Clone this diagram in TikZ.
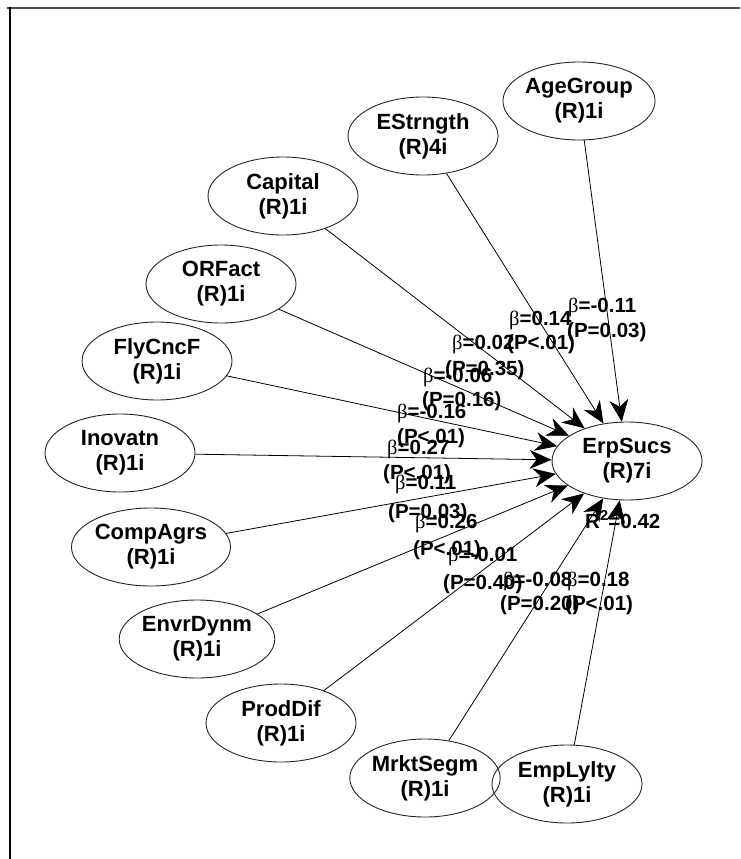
\documentclass[tikz,border=0pt]{standalone}
\usepackage{fontspec}
\setmainfont{Liberation Sans}
\newfontfamily\betafont{Liberation Serif}
\usetikzlibrary{arrows.meta,shapes.geometric}
\newcommand\betsym{{\betafont\mdseries β}}
\begin{document}
\begin{tikzpicture}[x=1pt,y=-1pt,
  construct/.style={ellipse, draw=black!85, line width=0.9pt,
    minimum width=150pt, minimum height=78pt, inner sep=0pt, align=center,
    font=\fontsize{22}{25}\selectfont\bfseries},
  link/.style={draw, line width=0.8pt,
    -{Stealth[length=22pt,width=19pt,inset=7pt]}},
  coef/.style={anchor=base west, inner sep=0pt,
    font=\fontsize{20.5}{24}\selectfont\bfseries}
]
% page and frame
\fill[white] (0,0) rectangle (740,859);
\useasboundingbox (0,0) rectangle (740,859);
\draw[line width=2pt, black!70] (7,8.5) -- (740,8.5);
\draw[line width=2pt, black] (10,7.5) -- (10,859);

% constructs
\node[construct] (AgeGroup) at (579,101) {AgeGroup\\(R)1i};
\node[construct] (EStrngth) at (423,136) {EStrngth\\(R)4i};
\node[construct] (Capital)  at (283,196) {Capital\\(R)1i};
\node[construct] (ORFact)   at (221,284) {ORFact\\(R)1i};
\node[construct] (FlyCncF)  at (157,361) {FlyCncF\\(R)1i};
\node[construct] (Inovatn)  at (120,453) {Inovatn\\(R)1i};
\node[construct] (CompAgrs) at (151,547) {CompAgrs\\(R)1i};
\node[construct] (EnvrDynm) at (197,639) {EnvrDynm\\(R)1i};
\node[construct] (ProdDif)  at (281,723) {ProdDif\\(R)1i};
\node[construct] (MrktSegm) at (425,778) {MrktSegm\\(R)1i};
\node[construct] (EmpLylty) at (567,784) {EmpLylty\\(R)1i};
\node[construct] (ErpSucs)  at (627,461) {ErpSucs\\(R)7i};

% structural paths
\foreach \src in {AgeGroup,EStrngth,Capital,ORFact,FlyCncF,Inovatn,
                  CompAgrs,EnvrDynm,ProdDif,MrktSegm,EmpLylty}
  \draw[link] (\src) -- (ErpSucs);

% path coefficients
\node[coef] (bAge)  at (568,312) {\betsym=-0.11};
\node[coef] (pAge)  at (567,337) {(P=0.03)};
\node[coef] (bEst)  at (509,325) {\betsym=0.14};
\node[coef] (pEst)  at (507,349) {(P<.01)};
\node[coef] (bCap)  at (452,349) {\betsym=0.02};
\node[coef] (pCap)  at (445,375) {(P=0.35)};
\node[coef] (bOrf)  at (423,382) {\betsym=-0.06};
\node[coef] (pOrf)  at (422,406) {(P=0.16)};
\node[coef] (bFly)  at (397,418) {\betsym=-0.16};
\node[coef] (pFly)  at (397,443) {(P<.01)};
\node[coef] (bIno)  at (387,454) {\betsym=0.27};
\node[coef] (pIno)  at (383,479) {(P<.01)};
\node[coef] (bCom)  at (395,489) {\betsym=0.11};
\node[coef] (pCom)  at (388,518) {(P=0.03)};
\node[coef] (bEnv)  at (415,528) {\betsym=0.26};
\node[coef] (pEnv)  at (413,555) {(P<.01)};
\node[coef] (bPro)  at (448,561) {\betsym=-0.01};
\node[coef] (pPro)  at (443,589) {(P=0.40)};
\node[coef] (bMrk)  at (503,586) {\betsym=-0.08};
\node[coef] (pMrk)  at (500,610) {(P=0.20)};
\node[coef] (bEmp)  at (567,586) {\betsym=0.18};
\node[coef] (pEmp)  at (565,610) {(P<.01)};
\node[coef] (rsq)   at (585,528) {R\textsuperscript{2}=0.42};
\end{tikzpicture}
\end{document}
